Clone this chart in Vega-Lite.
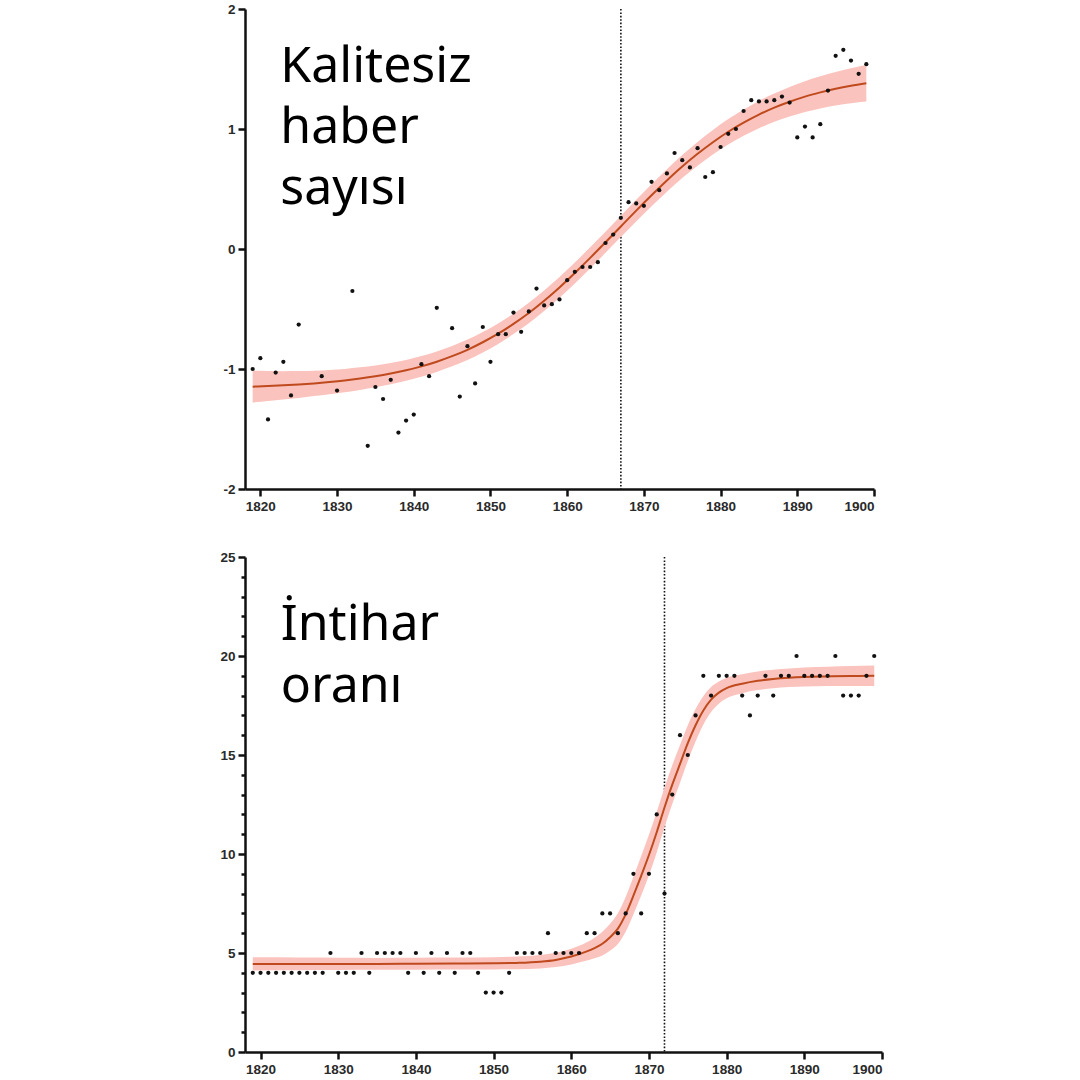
{
  "$schema": "https://vega.github.io/schema/vega-lite/v6.json",
  "padding": {"left": 219, "top": 2, "right": 5, "bottom": 5},
  "spacing": 68,
  "bounds": "flush",
  "config": {
    "view": {"stroke": null},
    "axis": {
      "grid": false,
      "title": null,
      "domainColor": "#111111",
      "domainWidth": 2.5,
      "tickColor": "#111111",
      "tickWidth": 2.5,
      "tickSize": 7,
      "labelFont": "Liberation Sans",
      "labelFontWeight": "bold",
      "labelFontSize": 13.5,
      "labelColor": "#2a2a2a",
      "labelOverlap": false
    },
    "axisX": {"labelPadding": 3},
    "axisY": {"labelPadding": 3}
  },
  "datasets": {
    "topPoints": [
      {"year": 1819, "value": -1.00}, {"year": 1820, "value": -0.91}, {"year": 1821, "value": -1.42},
      {"year": 1822, "value": -1.03}, {"year": 1823, "value": -0.94}, {"year": 1824, "value": -1.22},
      {"year": 1825, "value": -0.63}, {"year": 1828, "value": -1.06}, {"year": 1830, "value": -1.18},
      {"year": 1832, "value": -0.35}, {"year": 1834, "value": -1.64}, {"year": 1835, "value": -1.15},
      {"year": 1836, "value": -1.25}, {"year": 1837, "value": -1.09}, {"year": 1838, "value": -1.53},
      {"year": 1839, "value": -1.43}, {"year": 1840, "value": -1.38}, {"year": 1841, "value": -0.96},
      {"year": 1842, "value": -1.06}, {"year": 1843, "value": -0.49}, {"year": 1845, "value": -0.66},
      {"year": 1846, "value": -1.23}, {"year": 1847, "value": -0.81}, {"year": 1848, "value": -1.12},
      {"year": 1849, "value": -0.65}, {"year": 1850, "value": -0.94}, {"year": 1851, "value": -0.71},
      {"year": 1852, "value": -0.71}, {"year": 1853, "value": -0.53}, {"year": 1854, "value": -0.69},
      {"year": 1855, "value": -0.52}, {"year": 1856, "value": -0.33}, {"year": 1857, "value": -0.47},
      {"year": 1858, "value": -0.46}, {"year": 1859, "value": -0.42}, {"year": 1860, "value": -0.26},
      {"year": 1861, "value": -0.19}, {"year": 1862, "value": -0.15}, {"year": 1863, "value": -0.15},
      {"year": 1864, "value": -0.11}, {"year": 1865, "value": 0.05}, {"year": 1866, "value": 0.12},
      {"year": 1867, "value": 0.26}, {"year": 1868, "value": 0.39}, {"year": 1869, "value": 0.38},
      {"year": 1870, "value": 0.36}, {"year": 1871, "value": 0.56}, {"year": 1872, "value": 0.49},
      {"year": 1873, "value": 0.63}, {"year": 1874, "value": 0.80}, {"year": 1875, "value": 0.74},
      {"year": 1876, "value": 0.68}, {"year": 1877, "value": 0.84}, {"year": 1878, "value": 0.60},
      {"year": 1879, "value": 0.64}, {"year": 1880, "value": 0.85}, {"year": 1881, "value": 0.96},
      {"year": 1882, "value": 1.00}, {"year": 1883, "value": 1.15}, {"year": 1884, "value": 1.24},
      {"year": 1885, "value": 1.23}, {"year": 1886, "value": 1.23}, {"year": 1887, "value": 1.24},
      {"year": 1888, "value": 1.27}, {"year": 1889, "value": 1.22}, {"year": 1890, "value": 0.93},
      {"year": 1891, "value": 1.02}, {"year": 1892, "value": 0.93}, {"year": 1893, "value": 1.04},
      {"year": 1894, "value": 1.32}, {"year": 1895, "value": 1.61}, {"year": 1896, "value": 1.66},
      {"year": 1897, "value": 1.57}, {"year": 1898, "value": 1.46}, {"year": 1899, "value": 1.54}
    ],
    "topFit": [
      {"year": 1819, "fit": -1.147, "lo": -1.279, "hi": -1.015},
      {"year": 1821, "fit": -1.142, "lo": -1.267, "hi": -1.017},
      {"year": 1823, "fit": -1.136, "lo": -1.254, "hi": -1.018},
      {"year": 1825, "fit": -1.129, "lo": -1.241, "hi": -1.017},
      {"year": 1827, "fit": -1.120, "lo": -1.226, "hi": -1.014},
      {"year": 1829, "fit": -1.109, "lo": -1.210, "hi": -1.008},
      {"year": 1831, "fit": -1.096, "lo": -1.193, "hi": -0.999},
      {"year": 1833, "fit": -1.080, "lo": -1.174, "hi": -0.986},
      {"year": 1835, "fit": -1.061, "lo": -1.152, "hi": -0.970},
      {"year": 1837, "fit": -1.038, "lo": -1.127, "hi": -0.949},
      {"year": 1839, "fit": -1.011, "lo": -1.098, "hi": -0.924},
      {"year": 1841, "fit": -0.978, "lo": -1.064, "hi": -0.892},
      {"year": 1843, "fit": -0.939, "lo": -1.024, "hi": -0.854},
      {"year": 1845, "fit": -0.893, "lo": -0.978, "hi": -0.808},
      {"year": 1847, "fit": -0.840, "lo": -0.925, "hi": -0.755},
      {"year": 1849, "fit": -0.777, "lo": -0.862, "hi": -0.692},
      {"year": 1851, "fit": -0.706, "lo": -0.791, "hi": -0.621},
      {"year": 1853, "fit": -0.624, "lo": -0.709, "hi": -0.539},
      {"year": 1855, "fit": -0.533, "lo": -0.619, "hi": -0.447},
      {"year": 1857, "fit": -0.431, "lo": -0.517, "hi": -0.345},
      {"year": 1859, "fit": -0.320, "lo": -0.407, "hi": -0.233},
      {"year": 1861, "fit": -0.200, "lo": -0.287, "hi": -0.113},
      {"year": 1863, "fit": -0.074, "lo": -0.162, "hi": 0.014},
      {"year": 1865, "fit": 0.056, "lo": -0.032, "hi": 0.144},
      {"year": 1867, "fit": 0.188, "lo": 0.099, "hi": 0.277},
      {"year": 1869, "fit": 0.320, "lo": 0.230, "hi": 0.410},
      {"year": 1871, "fit": 0.448, "lo": 0.357, "hi": 0.539},
      {"year": 1873, "fit": 0.571, "lo": 0.478, "hi": 0.664},
      {"year": 1875, "fit": 0.687, "lo": 0.591, "hi": 0.783},
      {"year": 1877, "fit": 0.793, "lo": 0.694, "hi": 0.892},
      {"year": 1879, "fit": 0.890, "lo": 0.788, "hi": 0.992},
      {"year": 1881, "fit": 0.977, "lo": 0.871, "hi": 1.083},
      {"year": 1883, "fit": 1.053, "lo": 0.943, "hi": 1.163},
      {"year": 1885, "fit": 1.120, "lo": 1.006, "hi": 1.234},
      {"year": 1887, "fit": 1.178, "lo": 1.060, "hi": 1.296},
      {"year": 1889, "fit": 1.227, "lo": 1.104, "hi": 1.350},
      {"year": 1891, "fit": 1.270, "lo": 1.142, "hi": 1.398},
      {"year": 1893, "fit": 1.305, "lo": 1.171, "hi": 1.439},
      {"year": 1895, "fit": 1.335, "lo": 1.195, "hi": 1.475},
      {"year": 1897, "fit": 1.360, "lo": 1.214, "hi": 1.506},
      {"year": 1899, "fit": 1.381, "lo": 1.229, "hi": 1.533}
    ],
    "bottomPoints": [
      {"year": 1819, "value": 4}, {"year": 1820, "value": 4}, {"year": 1821, "value": 4},
      {"year": 1822, "value": 4}, {"year": 1823, "value": 4}, {"year": 1824, "value": 4},
      {"year": 1825, "value": 4}, {"year": 1826, "value": 4}, {"year": 1827, "value": 4},
      {"year": 1828, "value": 4}, {"year": 1829, "value": 5}, {"year": 1830, "value": 4},
      {"year": 1831, "value": 4}, {"year": 1832, "value": 4}, {"year": 1833, "value": 5},
      {"year": 1834, "value": 4}, {"year": 1835, "value": 5}, {"year": 1836, "value": 5},
      {"year": 1837, "value": 5}, {"year": 1838, "value": 5}, {"year": 1839, "value": 4},
      {"year": 1840, "value": 5}, {"year": 1841, "value": 4}, {"year": 1842, "value": 5},
      {"year": 1843, "value": 4}, {"year": 1844, "value": 5}, {"year": 1845, "value": 4},
      {"year": 1846, "value": 5}, {"year": 1847, "value": 5}, {"year": 1848, "value": 4},
      {"year": 1849, "value": 3}, {"year": 1850, "value": 3}, {"year": 1851, "value": 3},
      {"year": 1852, "value": 4}, {"year": 1853, "value": 5}, {"year": 1854, "value": 5},
      {"year": 1855, "value": 5}, {"year": 1856, "value": 5}, {"year": 1857, "value": 6},
      {"year": 1858, "value": 5}, {"year": 1859, "value": 5}, {"year": 1860, "value": 5},
      {"year": 1861, "value": 5}, {"year": 1862, "value": 6}, {"year": 1863, "value": 6},
      {"year": 1864, "value": 7}, {"year": 1865, "value": 7}, {"year": 1866, "value": 6},
      {"year": 1867, "value": 7}, {"year": 1868, "value": 9}, {"year": 1869, "value": 7},
      {"year": 1870, "value": 9}, {"year": 1871, "value": 12}, {"year": 1872, "value": 8},
      {"year": 1873, "value": 13}, {"year": 1874, "value": 16}, {"year": 1875, "value": 15},
      {"year": 1876, "value": 17}, {"year": 1877, "value": 19}, {"year": 1878, "value": 18},
      {"year": 1879, "value": 19}, {"year": 1880, "value": 19}, {"year": 1881, "value": 19},
      {"year": 1882, "value": 18}, {"year": 1883, "value": 17}, {"year": 1884, "value": 18},
      {"year": 1885, "value": 19}, {"year": 1886, "value": 18}, {"year": 1887, "value": 19},
      {"year": 1888, "value": 19}, {"year": 1889, "value": 20}, {"year": 1890, "value": 19},
      {"year": 1891, "value": 19}, {"year": 1892, "value": 19}, {"year": 1893, "value": 19},
      {"year": 1894, "value": 20}, {"year": 1895, "value": 18}, {"year": 1896, "value": 18},
      {"year": 1897, "value": 18}, {"year": 1898, "value": 19}, {"year": 1899, "value": 20}
    ],
    "bottomFit": [
      {"year": 1819, "fit": 4.45, "lo": 4.12, "hi": 4.78},
      {"year": 1825, "fit": 4.45, "lo": 4.13, "hi": 4.77},
      {"year": 1830, "fit": 4.45, "lo": 4.14, "hi": 4.76},
      {"year": 1835, "fit": 4.45, "lo": 4.15, "hi": 4.75},
      {"year": 1840, "fit": 4.46, "lo": 4.16, "hi": 4.76},
      {"year": 1845, "fit": 4.47, "lo": 4.17, "hi": 4.77},
      {"year": 1850, "fit": 4.48, "lo": 4.17, "hi": 4.79},
      {"year": 1853, "fit": 4.50, "lo": 4.18, "hi": 4.82},
      {"year": 1856, "fit": 4.56, "lo": 4.22, "hi": 4.90},
      {"year": 1858, "fit": 4.65, "lo": 4.29, "hi": 5.01},
      {"year": 1860, "fit": 4.82, "lo": 4.42, "hi": 5.22},
      {"year": 1862, "fit": 5.08, "lo": 4.62, "hi": 5.54},
      {"year": 1863, "fit": 5.25, "lo": 4.73, "hi": 5.77},
      {"year": 1864, "fit": 5.47, "lo": 4.87, "hi": 6.07},
      {"year": 1865, "fit": 5.80, "lo": 5.12, "hi": 6.48},
      {"year": 1866, "fit": 6.23, "lo": 5.45, "hi": 7.01},
      {"year": 1867, "fit": 6.95, "lo": 6.07, "hi": 7.83},
      {"year": 1868, "fit": 7.90, "lo": 6.95, "hi": 8.85},
      {"year": 1869, "fit": 8.90, "lo": 7.90, "hi": 9.90},
      {"year": 1870, "fit": 9.95, "lo": 8.93, "hi": 10.97},
      {"year": 1871, "fit": 11.10, "lo": 10.08, "hi": 12.12},
      {"year": 1872, "fit": 12.35, "lo": 11.35, "hi": 13.35},
      {"year": 1873, "fit": 13.50, "lo": 12.52, "hi": 14.48},
      {"year": 1874, "fit": 14.55, "lo": 13.60, "hi": 15.50},
      {"year": 1875, "fit": 15.60, "lo": 14.70, "hi": 16.50},
      {"year": 1876, "fit": 16.50, "lo": 15.68, "hi": 17.32},
      {"year": 1877, "fit": 17.25, "lo": 16.53, "hi": 17.97},
      {"year": 1878, "fit": 17.80, "lo": 17.17, "hi": 18.43},
      {"year": 1879, "fit": 18.15, "lo": 17.59, "hi": 18.71},
      {"year": 1880, "fit": 18.38, "lo": 17.86, "hi": 18.90},
      {"year": 1882, "fit": 18.60, "lo": 18.12, "hi": 19.08},
      {"year": 1884, "fit": 18.75, "lo": 18.28, "hi": 19.22},
      {"year": 1886, "fit": 18.84, "lo": 18.37, "hi": 19.31},
      {"year": 1888, "fit": 18.90, "lo": 18.43, "hi": 19.37},
      {"year": 1890, "fit": 18.94, "lo": 18.46, "hi": 19.42},
      {"year": 1893, "fit": 18.97, "lo": 18.48, "hi": 19.46},
      {"year": 1896, "fit": 18.99, "lo": 18.49, "hi": 19.49},
      {"year": 1899, "fit": 19.00, "lo": 18.48, "hi": 19.52}
    ]
  },
  "vconcat": [
    {
      "width": 629,
      "height": 480,
      "layer": [
        {
          "data": {"values": [{}]},
          "mark": {"type": "rule", "color": "#111111", "strokeWidth": 1.6, "strokeDash": [1.6, 1.8]},
          "encoding": {
            "x": {"datum": 1867, "type": "quantitative", "scale": {"domain": [1818, 1900], "nice": false, "zero": false}}
          }
        },
        {
          "data": {"name": "topFit"},
          "mark": {"type": "area", "color": "#fbc3bd", "interpolate": "monotone"},
          "encoding": {
            "x": {
              "field": "year", "type": "quantitative",
              "scale": {"domain": [1818, 1900], "nice": false, "zero": false},
              "axis": {"values": [1820, 1830, 1840, 1850, 1860, 1870, 1880, 1890, 1900], "labelExpr": "'' + datum.value"}
            },
            "y": {
              "field": "lo", "type": "quantitative",
              "scale": {"domain": [-2, 2], "nice": false, "zero": false},
              "axis": {"values": [-2, -1, 0, 1, 2], "labelExpr": "'' + datum.value"}
            },
            "y2": {"field": "hi"}
          }
        },
        {
          "data": {"name": "topFit"},
          "mark": {"type": "line", "color": "#bf4a1e", "strokeWidth": 2, "interpolate": "monotone"},
          "encoding": {
            "x": {"field": "year", "type": "quantitative", "scale": {"domain": [1818, 1900], "nice": false, "zero": false}},
            "y": {"field": "fit", "type": "quantitative", "scale": {"domain": [-2, 2], "nice": false, "zero": false}}
          }
        },
        {
          "data": {"name": "topPoints"},
          "mark": {"type": "point", "filled": true, "shape": "circle", "size": 18, "color": "#111111", "opacity": 1},
          "encoding": {
            "x": {"field": "year", "type": "quantitative", "scale": {"domain": [1818, 1900], "nice": false, "zero": false}},
            "y": {"field": "value", "type": "quantitative", "scale": {"domain": [-2, 2], "nice": false, "zero": false}}
          }
        },
        {
          "data": {"values": [{}]},
          "mark": {
            "type": "text", "text": ["Kalitesiz", "haber", "sayısı"],
            "align": "left", "baseline": "alphabetic",
            "font": "Noto Sans", "fontSize": 50, "lineHeight": 61, "color": "#000000"
          },
          "encoding": {
            "x": {"datum": 1822.6, "type": "quantitative", "scale": {"domain": [1818, 1900], "nice": false, "zero": false}},
            "y": {"datum": 1.39, "type": "quantitative", "scale": {"domain": [-2, 2], "nice": false, "zero": false}}
          }
        }
      ]
    },
    {
      "width": 637,
      "height": 495,
      "resolve": {"axis": {"y": "independent"}},
      "layer": [
        {
          "data": {"values": [{}]},
          "mark": {"type": "rule", "color": "#111111", "strokeWidth": 1.6, "strokeDash": [1.6, 1.8]},
          "encoding": {
            "x": {"datum": 1872, "type": "quantitative", "scale": {"domain": [1818, 1900], "nice": false, "zero": false}}
          }
        },
        {
          "data": {"name": "bottomFit"},
          "mark": {"type": "area", "color": "#fbc3bd", "interpolate": "monotone"},
          "encoding": {
            "x": {
              "field": "year", "type": "quantitative",
              "scale": {"domain": [1818, 1900], "nice": false, "zero": false},
              "axis": {"values": [1820, 1830, 1840, 1850, 1860, 1870, 1880, 1890, 1900], "labelExpr": "'' + datum.value"}
            },
            "y": {
              "field": "lo", "type": "quantitative",
              "scale": {"domain": [0, 25], "nice": false},
              "axis": {"orient": "left", "values": [0, 5, 10, 15, 20, 25], "labelExpr": "'' + datum.value"}
            },
            "y2": {"field": "hi"}
          }
        },
        {
          "data": {"name": "bottomFit"},
          "mark": {"type": "line", "color": "#bf4a1e", "strokeWidth": 2, "interpolate": "monotone"},
          "encoding": {
            "x": {"field": "year", "type": "quantitative", "scale": {"domain": [1818, 1900], "nice": false, "zero": false}},
            "y": {
              "field": "fit", "type": "quantitative",
              "scale": {"domain": [0, 25], "nice": false},
              "axis": {
                "orient": "left",
                "values": [1, 2, 3, 4, 6, 7, 8, 9, 11, 12, 13, 14, 16, 17, 18, 19, 21, 22, 23, 24],
                "labels": false, "domain": false, "tickSize": 4
              }
            }
          }
        },
        {
          "data": {"name": "bottomPoints"},
          "mark": {"type": "point", "filled": true, "shape": "circle", "size": 18, "color": "#111111", "opacity": 1},
          "encoding": {
            "x": {"field": "year", "type": "quantitative", "scale": {"domain": [1818, 1900], "nice": false, "zero": false}},
            "y": {"field": "value", "type": "quantitative", "scale": {"domain": [0, 25], "nice": false}, "axis": null}
          }
        },
        {
          "data": {"values": [{}]},
          "mark": {
            "type": "text", "text": ["İntihar", "oranı"],
            "align": "left", "baseline": "alphabetic",
            "font": "Noto Sans", "fontSize": 50, "lineHeight": 62, "color": "#000000"
          },
          "encoding": {
            "x": {"datum": 1822.6, "type": "quantitative", "scale": {"domain": [1818, 1900], "nice": false, "zero": false}},
            "y": {"datum": 20.83, "type": "quantitative", "scale": {"domain": [0, 25], "nice": false}, "axis": null}
          }
        }
      ]
    }
  ]
}
